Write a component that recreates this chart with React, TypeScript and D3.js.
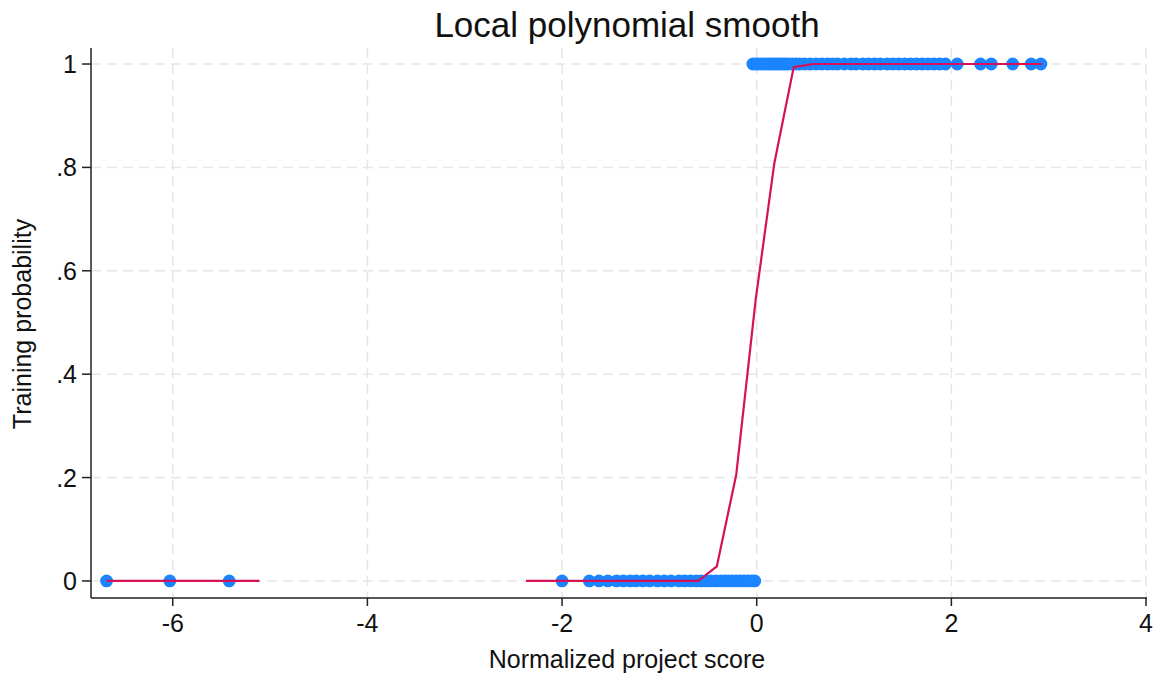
import React from "react";
import * as d3 from "d3";

const xTicks = [-6, -4, -2, 0, 2, 4];
const yTicks = [0, 0.2, 0.4, 0.6, 0.8, 1];
const yTickLabels = ["0", ".2", ".4", ".6", ".8", "1"];

// observations with outcome 0
const zeroX = [
  -6.68, -6.03, -5.42, -2.0, -1.72, -1.62, -1.53, -1.44, -1.37, -1.3, -1.24, -1.17,
  -1.1, -1.02, -0.95, -0.88, -0.8, -0.74, -0.68, -0.62, -0.57, -0.52, -0.47, -0.42,
  -0.37, -0.33, -0.29, -0.25, -0.21, -0.17, -0.13, -0.09, -0.05, -0.02,
];
// observations with outcome 1
const oneX = [
  -0.04, -0.01, 0.02, 0.05, 0.08, 0.11, 0.14, 0.17, 0.2, 0.23, 0.26, 0.29, 0.32,
  0.36, 0.4, 0.44, 0.49, 0.55, 0.61, 0.67, 0.73, 0.78, 0.83, 0.9, 0.97, 1.02, 1.09,
  1.15, 1.21, 1.27, 1.34, 1.4, 1.46, 1.52, 1.58, 1.64, 1.7, 1.76, 1.82, 1.88, 1.94,
  2.06, 2.3, 2.41, 2.63, 2.82, 2.92,
];

// lpoly grid points and smoothed values (null = not estimable)
const gridX = [
  -6.68, -6.48, -6.29, -6.09, -5.9, -5.7, -5.5, -5.31, -5.11, -4.92, -4.72, -4.52,
  -4.33, -4.13, -3.94, -3.74, -3.54, -3.35, -3.15, -2.96, -2.76, -2.56, -2.37, -2.17,
  -1.98, -1.78, -1.58, -1.39, -1.19, -0.99, -0.8, -0.6, -0.41, -0.21, -0.01, 0.18,
  0.38, 0.58, 0.77, 0.97, 1.17, 1.36, 1.56, 1.76, 1.95, 2.15, 2.34, 2.54, 2.74, 2.93,
];
const smoothY: (number | null)[] = [
  0, 0, 0, 0, 0, 0, 0, 0, 0, null, null, null, null, null, null, null, null, null,
  null, null, null, null, 0, 0, 0, 0, 0, 0, 0, 0, 0, 0, 0.028, 0.206, 0.545, 0.807,
  0.994, 1, 1, 1, 1, 1, 1, 1, 1, 1, 1, 1, 1, 1,
];

const BLUE = "#1a85ff";
const RED = "#d41159";
const FONT = "'Liberation Sans', Arial, Helvetica, sans-serif";

export default function App() {
  const W = 1163;
  const H = 677;
  const left = 91;
  const right = 1147;
  const top = 48;
  const bottom = 598;

  const x = d3.scaleLinear().domain([-6.84, 4.01]).range([left, right]);
  const y = d3.scaleLinear().domain([-0.033, 1.031]).range([bottom, top]);

  const pts = gridX.map((gx, i) => ({ x: gx, y: smoothY[i] }));
  const line = d3
    .line<{ x: number; y: number | null }>()
    .defined((d) => d.y !== null)
    .x((d) => x(d.x))
    .y((d) => y(d.y as number));

  const dots = [
    ...zeroX.map((v) => ({ x: v, y: 0 })),
    ...oneX.map((v) => ({ x: v, y: 1 })),
  ];

  return (
    <svg
      width={W}
      height={H}
      style={{ position: "absolute", left: 0, top: 0, background: "#fff" }}
      fontFamily={FONT}
    >
      <rect x={0} y={0} width={W} height={H} fill="#fff" />
      {/* grid */}
      {yTicks.map((t) => (
        <line
          key={"gy" + t}
          x1={left}
          x2={right}
          y1={y(t)}
          y2={y(t)}
          stroke="#e6e6e6"
          strokeWidth={1.5}
          strokeDasharray="10 6"
        />
      ))}
      {xTicks.map((t) => (
        <line
          key={"gx" + t}
          x1={x(t)}
          x2={x(t)}
          y1={top}
          y2={bottom}
          stroke="#e6e6e6"
          strokeWidth={1.5}
          strokeDasharray="10 6"
        />
      ))}
      {/* scatter */}
      {dots.map((d, i) => (
        <circle key={i} cx={x(d.x)} cy={y(d.y)} r={6.4} fill={BLUE} />
      ))}
      {/* smooth */}
      <path d={line(pts) || ""} fill="none" stroke={RED} strokeWidth={2.2} strokeLinejoin="round" />
      {/* axes */}
      <line x1={left} x2={left} y1={top} y2={bottom} stroke="#222" strokeWidth={1.5} />
      <line x1={left} x2={right} y1={bottom} y2={bottom} stroke="#222" strokeWidth={1.5} />
      {yTicks.map((t, i) => (
        <g key={"yt" + t}>
          <line x1={left - 9} x2={left} y1={y(t)} y2={y(t)} stroke="#222" strokeWidth={1.5} />
          <text
            x={left - 14}
            y={y(t)}
            dy="0.36em"
            textAnchor="end"
            fontSize={25}
            fill="#111"
          >
            {yTickLabels[i]}
          </text>
        </g>
      ))}
      {xTicks.map((t) => (
        <g key={"xt" + t}>
          <line x1={x(t)} x2={x(t)} y1={bottom} y2={bottom + 8} stroke="#222" strokeWidth={1.5} />
          <text x={x(t)} y={632} textAnchor="middle" fontSize={25} fill="#111">
            {t}
          </text>
        </g>
      ))}
      {/* titles */}
      <text x={627} y={37} textAnchor="middle" fontSize={35} fill="#111">
        Local polynomial smooth
      </text>
      <text x={627} y={668} textAnchor="middle" fontSize={25} fill="#111">
        Normalized project score
      </text>
      <text
        transform={`translate(31,324) rotate(-90)`}
        textAnchor="middle"
        fontSize={25}
        fill="#111"
      >
        Training probability
      </text>
    </svg>
  );
}
